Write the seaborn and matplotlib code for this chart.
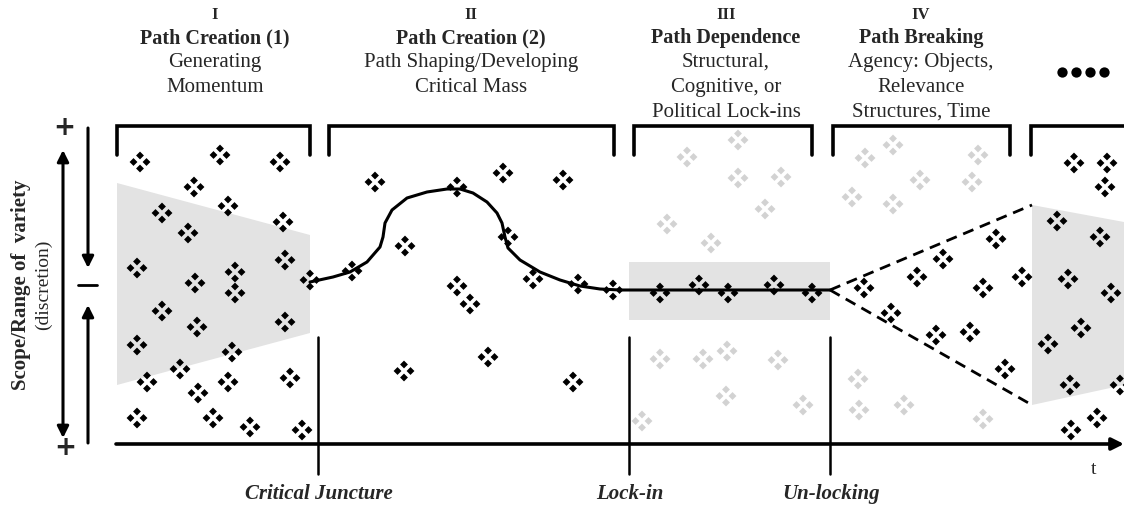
import numpy as np
import pandas as pd
import matplotlib
matplotlib.use('Agg')
import matplotlib.pyplot as plt
import seaborn as sns

sns.set_style('white')
plt.rcParams['font.family'] = ['Liberation Serif', 'DejaVu Serif']

# ---- data (pixel space of the original diagram, y grows downward) ----
phase_numbers = ['I', 'II', 'III', 'IV']
phase_titles = ['Path Creation (1)', 'Path Creation (2)', 'Path Dependence', 'Path Breaking']
phase_subtitles = [['Generating', 'Momentum'],
                   ['Path Shaping/Developing', 'Critical Mass'],
                   ['Structural,', 'Cognitive, or', 'Political Lock-ins'],
                   ['Agency: Objects,', 'Relevance', 'Structures, Time']]
phase_centers = [215, 471, 726, 921]
more_dots_x = [1062, 1076, 1090, 1104]

bracket_left = [117, 329, 634, 833, 1031]
bracket_right = [310, 614, 812, 1010, 1140]

event_labels = ['Critical Juncture', 'Lock-in', 'Un-locking']
event_x = [318, 629, 830]

# path curve (phase II into the lock-in plateau)
curve_x = [310, 333, 350, 367, 380, 383, 385, 392, 407, 427, 447, 460, 473, 487,
           497, 502, 505, 508, 520, 540, 560, 580, 600, 620, 640, 830]
curve_y = [282, 277, 272, 262, 247, 237, 223, 210, 198, 192, 189, 189, 193, 202,
           213, 223, 237, 248, 260, 272, 280, 286, 289, 290, 290, 290]

# path breaking: opening options
open_x = [830, 1032]
open_upper_y = [290, 205]
open_lower_y = [290, 405]

# shaded "scope" areas
trap1_x = [117, 310, 310, 117]
trap1_y = [183, 235, 333, 385]
rect_x = [629, 830, 830, 629]
rect_y = [262, 262, 320, 320]
trap2_x = [1032, 1124, 1124, 1032]
trap2_y = [205, 222, 385, 405]

# clusters of options (black = available, grey = foreclosed)
black_x = [140, 220, 280, 194, 162, 228, 188, 283, 137, 195, 235, 235, 285, 310,
           162, 197, 285, 137, 232, 180, 147, 228, 198, 290, 137, 213, 250, 302,
           375, 457, 503, 563, 405, 352, 508, 457, 470, 533, 578, 613, 488, 404, 573,
           660, 699, 728, 774, 812,
           996, 943, 917, 864, 1022, 983, 891, 936, 970, 1005,
           1074, 1107, 1105, 1057, 1100, 1068, 1111, 1081, 1048, 1070, 1120, 1071, 1097]
black_y = [162, 155, 162, 187, 213, 206, 233, 222, 268, 283, 272, 293, 260, 280,
           311, 327, 322, 345, 352, 369, 382, 382, 393, 378, 418, 418, 427, 430,
           182, 187, 173, 180, 246, 271, 237, 286, 304, 279, 284, 290, 357, 371, 382,
           293, 285, 293, 285, 293,
           239, 259, 277, 288, 277, 288, 313, 335, 332, 369,
           163, 163, 187, 221, 237, 279, 293, 328, 344, 385, 385, 430, 418]
grey_x = [687, 738, 738, 781, 765, 667, 711, 660, 703, 727, 778, 726, 803, 642,
          865, 893, 920, 978, 972, 852, 893, 858, 859, 904, 983]
grey_y = [157, 140, 178, 177, 209, 224, 243, 359, 359, 351, 360, 396, 405, 421,
          158, 145, 180, 155, 182, 197, 204, 379, 410, 405, 419]

# ---- figure ----
fig = plt.figure(figsize=(11.24, 5.09), dpi=100)
ax = fig.add_axes([0, 0, 1, 1])
ax.set_xlim(0, 1124)
ax.set_ylim(509, 0)
ax.axis('off')

shade = '#e3e3e3'
ax.fill(trap1_x, trap1_y, color=shade, lw=0, zorder=1)
ax.fill(rect_x, rect_y, color=shade, lw=0, zorder=1)
ax.fill(trap2_x, trap2_y, color=shade, lw=0, zorder=1)

# diamonds: each option is drawn as four small diamonds
off = [(0, -6.5), (-6.5, 0), (6.5, 0), (0, 6.5)]
def expand(xs, ys, kind):
    rows = []
    for x, y in zip(xs, ys):
        for dx, dy in off:
            rows.append((x + dx, y + dy, kind))
    return rows
pts = pd.DataFrame(expand(grey_x, grey_y, 'grey') + expand(black_x, black_y, 'black'),
                   columns=['x', 'y', 'kind'])
sns.scatterplot(data=pts, x='x', y='y', hue='kind', palette={'black': 'black', 'grey': '#d2d2d2'},
                marker='D', s=16, linewidth=0, legend=False, ax=ax, zorder=3)

# path line
sns.lineplot(x=curve_x, y=curve_y, sort=False, estimator=None, color='black', lw=2.2, ax=ax, zorder=4)
sns.lineplot(x=open_x, y=open_upper_y, sort=False, estimator=None, color='black', lw=2,
             linestyle=(0, (4, 2.5)), ax=ax, zorder=4)
sns.lineplot(x=open_x, y=open_lower_y, sort=False, estimator=None, color='black', lw=2,
             linestyle=(0, (4, 2.5)), ax=ax, zorder=4)

# time axis
ax.annotate('', xy=(1124, 444), xytext=(116, 444),
            arrowprops=dict(arrowstyle='-|>', lw=2.6, color='black', mutation_scale=18,
                            shrinkA=0, shrinkB=0))
ax.text(1094, 470, 't', fontsize=14, ha='center', va='center')
for xv, lab in zip(event_x, event_labels):
    ax.plot([xv, xv], [337, 474], color='black', lw=1.8)
    ax.text(xv + 1, 494, lab, fontsize=15, ha='center', va='center', fontweight='bold', style='italic')

# brackets
for l, r in zip(bracket_left, bracket_right):
    ax.plot([l, l, r, r], [155, 126, 126, 155], color='black', lw=2.6, solid_joinstyle='miter')

# phase headers
for c, num, title, subs in zip(phase_centers, phase_numbers, phase_titles, phase_subtitles):
    ax.text(c, 15, num, fontsize=12, fontweight='bold', ha='center', va='center')
    ax.text(c, 38, title, fontsize=14.5, fontweight='bold', ha='center', va='center')
    for i, s in enumerate(subs):
        ax.text(c, 62 + 25 * i, s, fontsize=15, ha='center', va='center')
sns.scatterplot(x=more_dots_x, y=[72] * 4, color='black', s=55, linewidth=0, ax=ax)

# scope axis
arr = dict(lw=2.2, color='black', mutation_scale=17, shrinkA=0, shrinkB=0)
ax.annotate('', xy=(63, 150), xytext=(63, 438), arrowprops=dict(arrowstyle='<|-|>', **arr))
ax.annotate('', xy=(88, 268), xytext=(88, 128), arrowprops=dict(arrowstyle='-|>', **arr))
ax.annotate('', xy=(88, 305), xytext=(88, 443), arrowprops=dict(arrowstyle='-|>', **arr))
ax.text(64, 128, '+', fontsize=19, fontweight='bold', ha='center', va='center', family='DejaVu Sans')
ax.text(65, 448, '+', fontsize=19, fontweight='bold', ha='center', va='center', family='DejaVu Sans')
ax.plot([78, 97], [285, 285], color='black', lw=2)
ax.text(21, 285, 'Scope/Range of  variety', fontsize=15, fontweight='bold', rotation=90,
        ha='center', va='center')
ax.text(43, 285, '(discretion)', fontsize=14, rotation=90, ha='center', va='center')

fig.savefig('out.png', dpi=100)
